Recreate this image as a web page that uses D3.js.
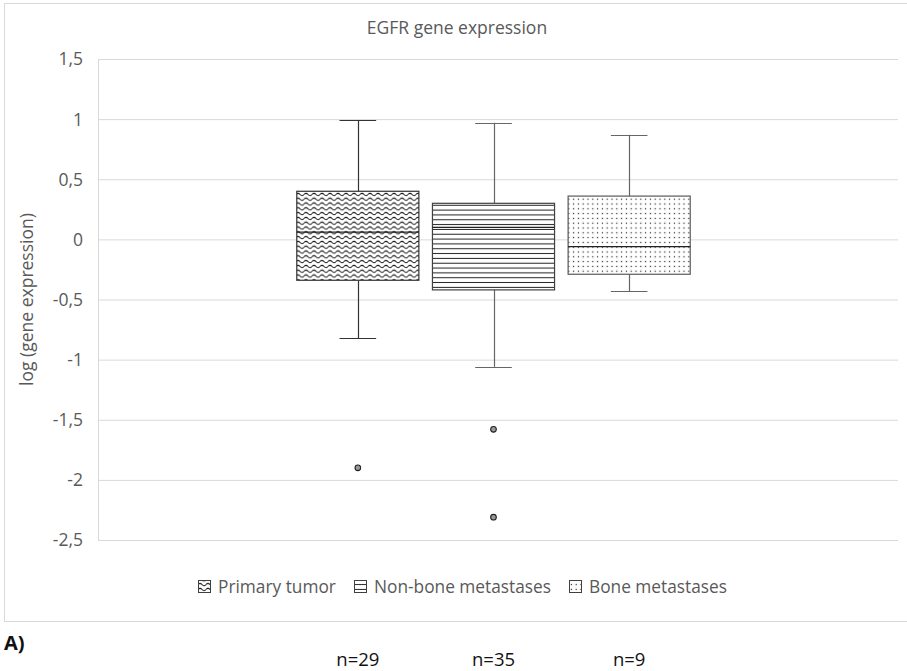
<!DOCTYPE html>
<html>
<head>
<meta charset="utf-8">
<script src="https://cdn.jsdelivr.net/npm/d3@7"></script>
<style>
  html, body { margin: 0; padding: 0; background: #fff; }
  svg { display: block; }
</style>
</head>
<body>
<div id="chart"></div>
<script>
// Groups and their five-number summaries (log gene expression)
const groups   = ["Primary tumor", "Non-bone metastases", "Bone metastases"];
const whiskerHi = [0.99, 0.97, 0.87];
const q3        = [0.40, 0.30, 0.36];
const medians   = [0.06, 0.10, -0.06];
const q1        = [-0.34, -0.42, -0.29];
const whiskerLo = [-0.82, -1.06, -0.43];
// Outliers per group
const outliers  = [[-1.90], [-1.58, -2.31], []];
// Sample sizes
const counts    = ["n=29", "n=35", "n=9"];
// Axis ticks
const yTicks    = [1.5, 1, 0.5, 0, -0.5, -1, -1.5, -2, -2.5];
const yTickLabels = ["1,5", "1", "0,5", "0", "-0,5", "-1", "-1,5", "-2", "-2,5"];

const W = 907, H = 671;
const plot = { left: 98, right: 898, top: 59, bottom: 540 };
const textGrey = "#595959";
const gridGrey = "#d9d9d9";
const fontMain = "'Open Sans', 'Noto Sans', sans-serif";

const svg = d3.select("#chart").append("svg")
  .attr("width", W).attr("height", H);

// Fill patterns for the three boxes
const defs = svg.append("defs");
const wave = defs.append("pattern").attr("id", "pat-wave")
  .attr("patternUnits", "userSpaceOnUse").attr("width", 8).attr("height", 4.8);
wave.append("rect").attr("width", 8).attr("height", 4.8).attr("fill", "#fff");
wave.append("path").attr("d", "M0,2.4 Q2,0.2 4,2.4 Q6,4.6 8,2.4")
  .attr("fill", "none").attr("stroke", "#111").attr("stroke-width", 1);

const hlines = defs.append("pattern").attr("id", "pat-hlines")
  .attr("patternUnits", "userSpaceOnUse").attr("width", 8).attr("height", 4.83);
hlines.append("rect").attr("width", 8).attr("height", 4.83).attr("fill", "#fff");
hlines.append("line").attr("x1", 0).attr("x2", 8).attr("y1", 2.4).attr("y2", 2.4)
  .attr("stroke", "#222").attr("stroke-width", 1);

const dots = defs.append("pattern").attr("id", "pat-dots")
  .attr("patternUnits", "userSpaceOnUse").attr("width", 4.8).attr("height", 4.8);
dots.append("rect").attr("width", 4.8).attr("height", 4.8).attr("fill", "#fff");
dots.append("rect").attr("x", 1.8).attr("y", 1.8).attr("width", 1.2).attr("height", 1.2)
  .attr("fill", "#222");

const fills = ["url(#pat-wave)", "url(#pat-hlines)", "url(#pat-dots)"];
const boxStroke = ["#333", "#404040", "#595959"];
const whiskStroke = ["#333", "#666", "#666"];

// Outer chart frame
svg.append("rect").attr("x", 4.5).attr("y", 3.5).attr("width", 920).attr("height", 618)
  .attr("fill", "none").attr("stroke", gridGrey).attr("stroke-width", 1);

// Scales
const y = d3.scaleLinear().domain([-2.5, 1.5]).range([plot.bottom, plot.top]);
const x = d3.scaleBand().domain(groups).range([290, 697])
  .paddingInner(0.1).paddingOuter(0.05);

// Gridlines and tick labels
const yAxis = d3.axisLeft(y).tickValues(yTicks)
  .tickSize(-(plot.right - plot.left))
  .tickFormat((d, i) => yTickLabels[i]);
const gAxis = svg.append("g").attr("transform", `translate(${plot.left},0)`).call(yAxis);
gAxis.select(".domain").attr("stroke", gridGrey);
gAxis.selectAll(".tick line").attr("stroke", gridGrey).attr("stroke-width", 1);
gAxis.selectAll(".tick text")
  .attr("x", -15).attr("dy", "0.34em")
  .attr("fill", textGrey).attr("font-family", fontMain).attr("font-size", 17.5);

// Title
svg.append("text").attr("x", 457).attr("y", 34).attr("text-anchor", "middle")
  .attr("font-family", fontMain)
  .attr("font-size", 17.5).attr("fill", textGrey)
  .text("EGFR gene expression");

// Y axis title
svg.append("text")
  .attr("transform", `translate(33,${(plot.top + plot.bottom) / 2}) rotate(-90)`)
  .attr("text-anchor", "middle").attr("font-family", fontMain)
  .attr("font-size", 17.5).attr("fill", textGrey)
  .text("log (gene expression)");

// Box plots
const data = groups.map((g, i) => ({
  g, i, hi: whiskerHi[i], q3: q3[i], med: medians[i], q1: q1[i], lo: whiskerLo[i], out: outliers[i]
}));
const gBox = svg.append("g").selectAll("g").data(data).join("g");

gBox.each(function(d) {
  const sel = d3.select(this);
  const x0 = x(d.g), bw = x.bandwidth(), cx = x0 + bw / 2;
  const capW = bw * 0.3;
  const crisp = v => Math.round(v) + 0.5;
  // whiskers
  sel.append("line").attr("x1", crisp(cx)).attr("x2", crisp(cx))
    .attr("y1", y(d.hi)).attr("y2", y(d.q3))
    .attr("stroke", whiskStroke[d.i]).attr("stroke-width", 1.2);
  sel.append("line").attr("x1", crisp(cx)).attr("x2", crisp(cx))
    .attr("y1", y(d.q1)).attr("y2", y(d.lo))
    .attr("stroke", whiskStroke[d.i]).attr("stroke-width", 1.2);
  sel.append("line").attr("x1", cx - capW / 2).attr("x2", cx + capW / 2)
    .attr("y1", crisp(y(d.hi))).attr("y2", crisp(y(d.hi)))
    .attr("stroke", whiskStroke[d.i]).attr("stroke-width", 1.2);
  sel.append("line").attr("x1", cx - capW / 2).attr("x2", cx + capW / 2)
    .attr("y1", crisp(y(d.lo))).attr("y2", crisp(y(d.lo)))
    .attr("stroke", whiskStroke[d.i]).attr("stroke-width", 1.2);
  // box
  sel.append("rect").attr("x", x0).attr("y", y(d.q3))
    .attr("width", bw).attr("height", y(d.q1) - y(d.q3))
    .attr("fill", fills[d.i]).attr("stroke", boxStroke[d.i]).attr("stroke-width", 1.2);
  // median
  sel.append("line").attr("x1", x0).attr("x2", x0 + bw)
    .attr("y1", y(d.med)).attr("y2", y(d.med))
    .attr("stroke", "#222").attr("stroke-width", 1.3);
  // outliers
  sel.selectAll("circle").data(d.out).join("circle")
    .attr("cx", cx).attr("cy", v => y(v)).attr("r", 2.8)
    .attr("fill", "#999").attr("stroke", "#222").attr("stroke-width", 1.1);
});

// Legend
const legendY = 587;
const legendItems = [
  { label: groups[0], x: 198 },
  { label: groups[1], x: 354 },
  { label: groups[2], x: 569 }
];
const gLeg = svg.append("g").selectAll("g").data(legendItems).join("g")
  .attr("transform", d => `translate(${d.x},${legendY})`);
gLeg.append("rect").attr("x", 0.5).attr("y", -6.5).attr("width", 12).attr("height", 12)
  .attr("fill", (d, i) => fills[i]).attr("stroke", "#404040").attr("stroke-width", 1);
gLeg.append("text").attr("x", 20).attr("y", 0).attr("dy", "0.35em")
  .attr("font-family", fontMain).attr("font-size", 17.3).attr("fill", textGrey)
  .text(d => d.label);

// Panel label
svg.append("text").attr("x", 4).attr("y", 650)
  .attr("font-family", fontMain).attr("font-weight", "bold")
  .attr("font-size", 20).attr("fill", "#111").text("A)");

// Sample sizes beneath each group
svg.append("g").selectAll("text").data(counts).join("text")
  .attr("x", (d, i) => x(groups[i]) + x.bandwidth() / 2).attr("y", 666)
  .attr("text-anchor", "middle")
  .attr("font-family", fontMain).attr("font-size", 18.5).attr("fill", "#111")
  .text(d => d);
</script>
</body>
</html>
